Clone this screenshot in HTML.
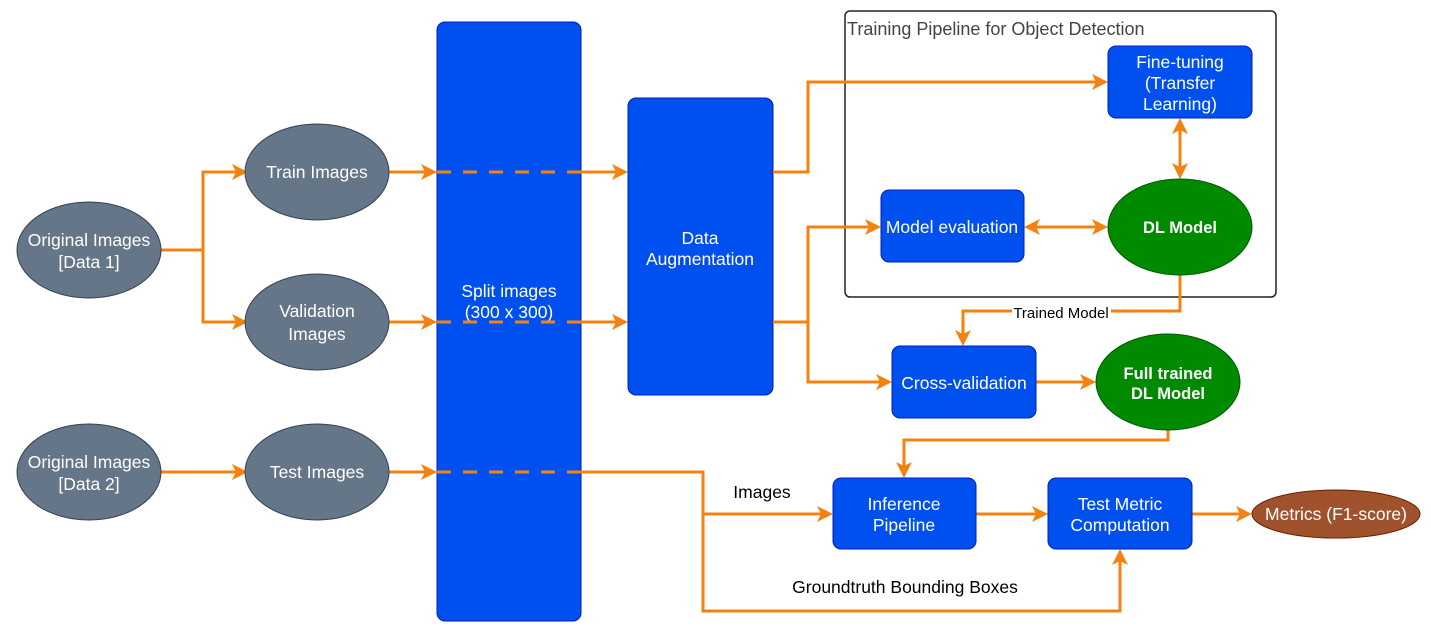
<!DOCTYPE html>
<html><head><style>
body{margin:0;background:#fff;}
svg text{font-family:"Liberation Sans",Arial,sans-serif;}
</style></head><body>
<svg width="1431" height="631" viewBox="0 0 1431 631" xmlns="http://www.w3.org/2000/svg">
<style>
.l{stroke:#f5820f;stroke-width:3;fill:none}
.d{stroke:#f5820f;stroke-width:3;fill:none;stroke-dasharray:14 12}
.gr{fill:#647687;stroke:#314354;stroke-width:1}
.bl{fill:#0050ef;stroke:#001dbc;stroke-width:1}
.gn{fill:#008a00;stroke:#005700;stroke-width:1}
.w{fill:#fff;font-size:17.5px;text-anchor:middle}
.wb{fill:#fff;font-size:16.5px;font-weight:bold;text-anchor:middle}
.ah{fill:#f5820f}
</style>
<rect x="845" y="11" width="431" height="286" rx="5" fill="none" stroke="#222" stroke-width="1.5"/>
<text x="847" y="35" font-size="18" fill="#444">Training Pipeline for Object Detection</text>

<rect class="bl" x="437" y="22" width="144" height="599" rx="8"/>
<text class="w" x="509" y="297">Split images</text><text class="w" x="509" y="318">(300 x 300)</text>
<rect class="bl" x="628" y="98" width="145" height="297" rx="8"/>
<text class="w" x="700" y="244">Data</text><text class="w" x="700" y="265">Augmentation</text>

<path class="l" d="M161 250H203V172H240"/><path class="l" d="M203 250V322H240"/>
<path class="l" d="M161 472H240"/>
<path class="l" d="M389 172H430"/><path class="l" d="M389 322H430"/><path class="l" d="M389 472H430"/>
<path class="d" d="M437 172H581"/><path class="d" d="M437 322H581"/><path class="d" d="M437 472H581"/>
<path class="l" d="M581 172H621"/><path class="l" d="M581 322H621"/>
<path class="l" d="M773 172H808V82H1101"/>
<path class="l" d="M773 322H808V227H874"/><path class="l" d="M808 322V382H885"/>
<path class="l" d="M1031 227H1101"/>
<path class="l" d="M1180 125V172"/>
<path class="l" d="M1180 275V311H963V339"/>
<path class="l" d="M1036 382H1089"/>
<path class="l" d="M1168 430V440H904V471"/>
<path class="l" d="M581 472H703V611H1120V556"/>
<path class="l" d="M703 514H826"/>
<path class="l" d="M976 514H1041"/>
<path class="l" d="M1192 514H1245"/>

<g class="ah">
<polygon points="248,172 232,164 236,172 232,180"/>
<polygon points="248,322 232,314 236,322 232,330"/>
<polygon points="248,472 232,464 236,472 232,480"/>
<polygon points="437,172 421,164 425,172 421,180"/>
<polygon points="437,322 421,314 425,322 421,330"/>
<polygon points="437,472 421,464 425,472 421,480"/>
<polygon points="628,172 612,164 616,172 612,180"/>
<polygon points="628,322 612,314 616,322 612,330"/>
<polygon points="1108,82 1092,74 1096,82 1092,90"/>
<polygon points="881,227 865,219 869,227 865,235"/>
<polygon points="892,382 876,374 880,382 876,390"/>
<polygon points="1024,227 1040,219 1036,227 1040,235"/>
<polygon points="1108,227 1092,219 1096,227 1092,235"/>
<polygon points="1180,118 1172,134 1180,130 1188,134"/>
<polygon points="1180,179 1172,163 1180,167 1188,163"/>
<polygon points="963,346 955,330 963,334 971,330"/>
<polygon points="1096,382 1080,374 1084,382 1080,390"/>
<polygon points="904,478 896,462 904,466 912,462"/>
<polygon points="833,514 817,506 821,514 817,522"/>
<polygon points="1048,514 1032,506 1036,514 1032,522"/>
<polygon points="1252,514 1236,506 1240,514 1236,522"/>
<polygon points="1120,549 1112,565 1120,561 1128,565"/>
</g>

<ellipse class="gr" cx="89" cy="250" rx="72" ry="48"/>
<text class="w" x="89" y="246">Original Images</text><text class="w" x="89" y="268">[Data 1]</text>
<ellipse class="gr" cx="317" cy="172" rx="72" ry="48"/>
<text class="w" x="317" y="178">Train Images</text>
<ellipse class="gr" cx="317" cy="322" rx="72" ry="48"/>
<text class="w" x="317" y="317">Validation</text><text class="w" x="317" y="340">Images</text>
<ellipse class="gr" cx="89" cy="472" rx="72" ry="48"/>
<text class="w" x="89" y="468">Original Images</text><text class="w" x="89" y="490">[Data 2]</text>
<ellipse class="gr" cx="317" cy="472" rx="72" ry="48"/>
<text class="w" x="317" y="478">Test Images</text>

<rect class="bl" x="1108" y="46" width="144" height="72" rx="8"/>
<text class="w" x="1180" y="68">Fine-tuning</text><text class="w" x="1180" y="89">(Transfer</text><text class="w" x="1180" y="110">Learning)</text>
<rect class="bl" x="881" y="190" width="143" height="72" rx="8"/>
<text class="w" x="952" y="233">Model evaluation</text>
<ellipse class="gn" cx="1180" cy="227" rx="72" ry="48"/>
<text class="wb" x="1180" y="233">DL Model</text>
<rect x="1012" y="303" width="99" height="16" fill="#fff"/>
<text x="1061" y="318" font-size="15" text-anchor="middle" fill="#000">Trained Model</text>
<rect class="bl" x="892" y="346" width="144" height="72" rx="8"/>
<text class="w" x="964" y="389">Cross-validation</text>
<ellipse class="gn" cx="1168" cy="382" rx="72" ry="48"/>
<text class="wb" x="1168" y="379">Full trained</text><text class="wb" x="1168" y="399">DL Model</text>
<rect class="bl" x="833" y="478" width="143" height="71" rx="8"/>
<text class="w" x="904" y="510">Inference</text><text class="w" x="904" y="531">Pipeline</text>
<rect class="bl" x="1048" y="478" width="144" height="71" rx="8"/>
<text class="w" x="1120" y="510">Test Metric</text><text class="w" x="1120" y="531">Computation</text>
<ellipse cx="1336" cy="514" rx="84" ry="24" fill="#a0522d" stroke="#6d1f00"/>
<text class="w" x="1336" y="520">Metrics (F1-score)</text>
<text x="762" y="498" font-size="17.5" text-anchor="middle" fill="#000">Images</text>
<text x="905" y="593" font-size="17.5" text-anchor="middle" fill="#000">Groundtruth Bounding Boxes</text>
</svg>
</body></html>
